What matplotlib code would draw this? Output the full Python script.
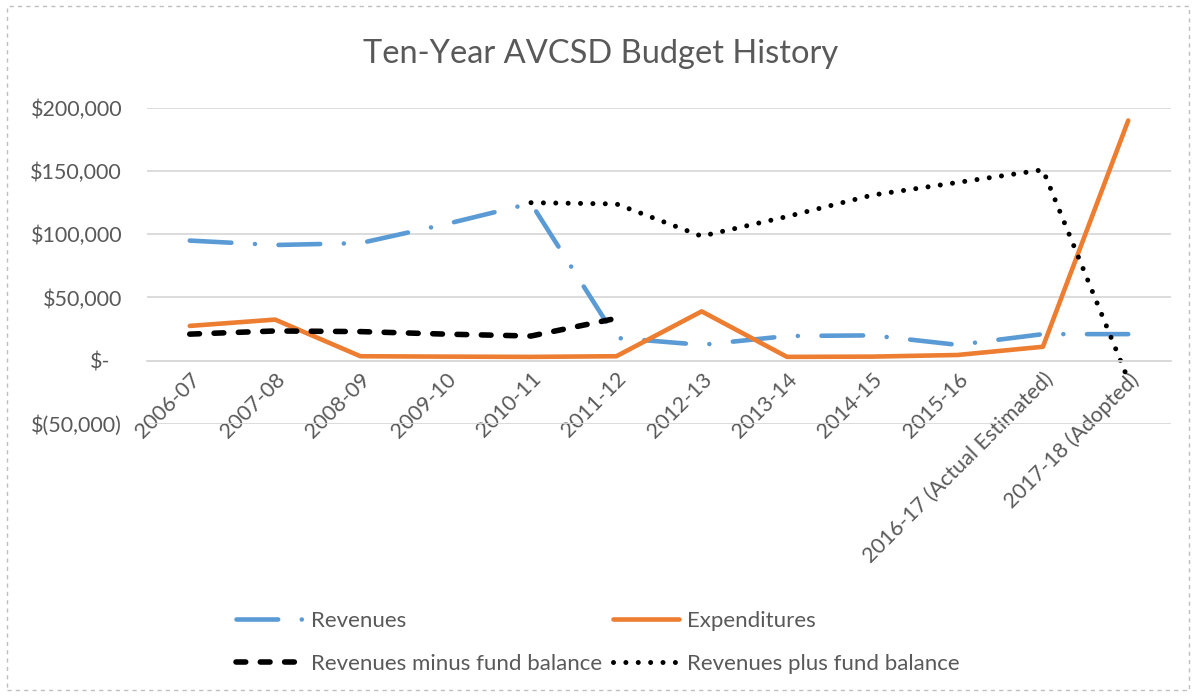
import matplotlib
matplotlib.use("Agg")
import matplotlib.pyplot as plt
from matplotlib.patches import Rectangle
from matplotlib.ticker import FuncFormatter
from matplotlib.transforms import ScaledTranslation
import numpy as np

plt.rcParams['font.family'] = ['Lato', 'DejaVu Sans']
plt.rcParams['lines.scale_dashes'] = False

years = ["2006-07", "2007-08", "2008-09", "2009-10", "2010-11", "2011-12",
         "2012-13", "2013-14", "2014-15", "2015-16",
         "2016-17 (Actual Estimated)", "2017-18 (Adopted)"]

revenues = [95000, 91500, 93000, 108000, 124500, 18000,
            12500, 19500, 20000, 12500, 21000, 21000]
expenditures = [27500, 32500, 3500, 3200, 3000, 3500,
                39000, 3000, 3200, 4500, 11000, 190000]
rev_minus_fund = [21000, 23500, 23000, 21000, 19500, 33500,
                  None, None, None, None, None, None]
rev_plus_fund = [None, None, None, None, 125000, 124000,
                 98500, 114000, 131000, 141000, 151000, -15000]

grey = "#595959"
x = np.arange(len(years))


def as_float(vals):
    return np.array([np.nan if v is None else v for v in vals], dtype=float)


fig = plt.figure(figsize=(11.96, 6.96), dpi=100)
ax = fig.add_axes([0.123, 0.391, 0.856, 0.454])

ax.plot(x, as_float(revenues), color="#5B9BD5", lw=3.3,
        dashes=(30, 17, 0.01, 17), dash_capstyle="round",
        solid_joinstyle="round", label="Revenues")
ax.plot(x, as_float(expenditures), color="#ED7D31", lw=3.3,
        solid_joinstyle="round", solid_capstyle="round", label="Expenditures")
ax.plot(x, as_float(rev_minus_fund), color="black", lw=4.0,
        dashes=(7, 10.5), dash_capstyle="round", label="Revenues minus fund balance")
ax.plot(x, as_float(rev_plus_fund), color="black", lw=3.6,
        dashes=(0.01, 8.9), dash_capstyle="round", label="Revenues plus fund balance")

ax.set_xlim(-0.5, len(years) - 0.5)
ax.set_ylim(-50000, 200000)
ax.set_yticks([-50000, 0, 50000, 100000, 150000, 200000])


def money(v, pos):
    if v == 0:
        return ""  # drawn separately, accounting-style alignment
    if v < 0:
        return "$({:,.0f})".format(-v)
    return "${:,.0f}".format(v)


ax.yaxis.set_major_formatter(FuncFormatter(money))
ax.text(0, 0, "$-", transform=ax.get_yaxis_transform() + ScaledTranslation(-0.37, 0, fig.dpi_scale_trans),
        ha="right", va="center_baseline", fontsize=15.5, color=grey)
ax.grid(axis="y", color="#D9D9D9", lw=1.3)
ax.set_axisbelow(True)
for s in ["top", "right", "left"]:
    ax.spines[s].set_visible(False)
ax.spines["bottom"].set_position(("data", 0))
ax.spines["bottom"].set_color("#D9D9D9")
ax.spines["bottom"].set_linewidth(1.3)
ax.tick_params(length=0, labelcolor=grey, labelsize=15.5)
ax.tick_params(axis="y", pad=18)
ax.tick_params(axis="x", pad=6)
ax.set_xticks(x)
ax.set_xticklabels(years, rotation=45, ha="right", va="top", rotation_mode="anchor")

fig.text(0.502, 0.922, "Ten-Year AVCSD Budget History", ha="center", va="center",
         fontsize=23.5, color=grey)

h, l = ax.get_legend_handles_labels()
order = [0, 2, 1, 3]
leg = fig.legend([h[i] for i in order], [l[i] for i in order], ncol=2,
                 loc="center", bbox_to_anchor=(0.5, 0.077), frameon=False,
                 fontsize=16, handlelength=3.0, handletextpad=0.35,
                 columnspacing=0.5, labelspacing=1.05)
for t in leg.get_texts():
    t.set_color(grey)

fig.patches.append(Rectangle((0.006, 0.008), 0.988, 0.984, transform=fig.transFigure,
                             fill=False, ec="#BFBFBF", lw=1, ls=(0, (3, 3))))

fig.savefig("out.png", dpi=100)
